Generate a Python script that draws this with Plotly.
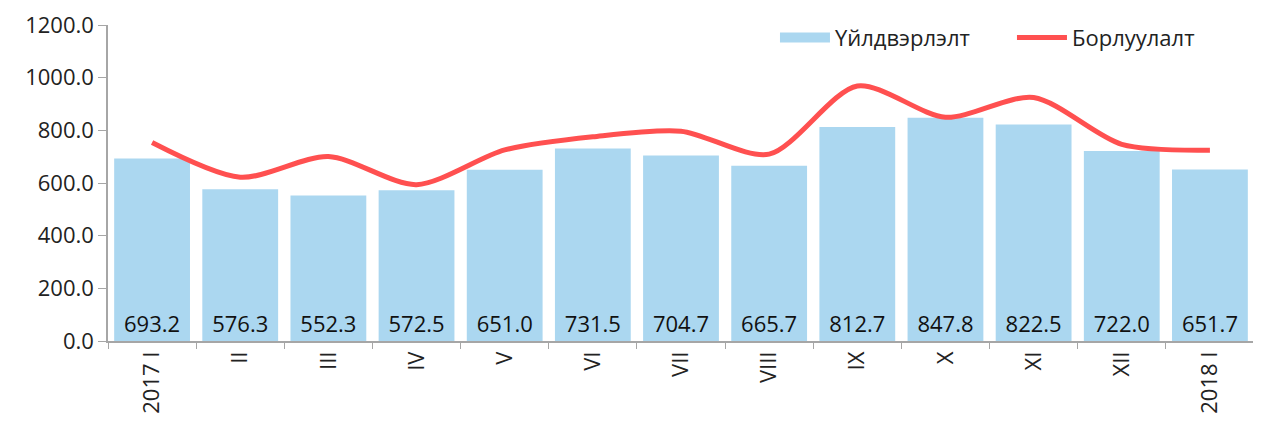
import plotly.graph_objects as go

months = ["2017 I", "II", "III", "IV", "V", "VI", "VII", "VIII", "IX", "X", "XI", "XII", "2018 I"]
production = [693.2, 576.3, 552.3, 572.5, 651.0, 731.5, 704.7, 665.7, 812.7, 847.8, 822.5, 722.0, 651.7]
sales = [754, 622, 701, 594, 726, 776, 797, 710, 969, 850, 925, 747, 725]

font_family = "Open Sans, Noto Sans, sans-serif"
bar_color = "#ABD7F0"

fig = go.Figure()

fig.add_trace(
    go.Bar(
        x=months,
        y=production,
        name="Үйлдвэрлэлт",
        marker=dict(color=bar_color, line=dict(width=0)),
        text=[f"{v:.1f}" for v in production],
        textposition="inside",
        insidetextanchor="start",
        textangle=0,
        textfont=dict(size=22, color="#111111", family=font_family),
        showlegend=False,
    )
)

# legend-only entry so the bar key shows as a wide block
fig.add_trace(
    go.Scatter(
        x=[None],
        y=[None],
        name="Үйлдвэрлэлт",
        mode="lines",
        line=dict(color=bar_color, width=16),
    )
)

fig.add_trace(
    go.Scatter(
        x=months,
        y=sales,
        name="Борлуулалт",
        mode="lines",
        line=dict(color="#FF5050", width=5, shape="spline", smoothing=0.8),
    )
)

# the page body adds an 8px offset, so the figure is slightly smaller
fig.update_layout(
    width=1253,
    height=415,
    margin=dict(l=100, r=7, t=17, b=82),
    plot_bgcolor="white",
    paper_bgcolor="white",
    bargap=0.14,
    font=dict(family=font_family, size=22, color="#222222"),
    legend=dict(
        orientation="h",
        x=0.582,
        y=0.96,
        xanchor="left",
        yanchor="middle",
        font=dict(size=22),
        bgcolor="rgba(0,0,0,0)",
        itemwidth=50,
        entrywidth=172,
    ),
    xaxis=dict(
        automargin=False,
        showgrid=False,
        showline=True,
        linecolor="#A6A6A6",
        linewidth=1.5,
        ticks="outside",
        tickson="boundaries",
        tickcolor="#A6A6A6",
        ticklen=6,
        tickangle=-90,
        tickfont=dict(size=22),
    ),
    yaxis=dict(
        automargin=False,
        range=[0, 1200.5],
        tickvals=[0, 200, 400, 600, 800, 1000, 1200],
        tickformat=".1f",
        ticklabeloverflow="allow",
        showgrid=False,
        zeroline=False,
        showline=True,
        linecolor="#A6A6A6",
        linewidth=1.5,
        ticks="outside",
        tickcolor="#A6A6A6",
        ticklen=8,
        tickfont=dict(size=22),
    ),
)

fig.write_html("out.html")
